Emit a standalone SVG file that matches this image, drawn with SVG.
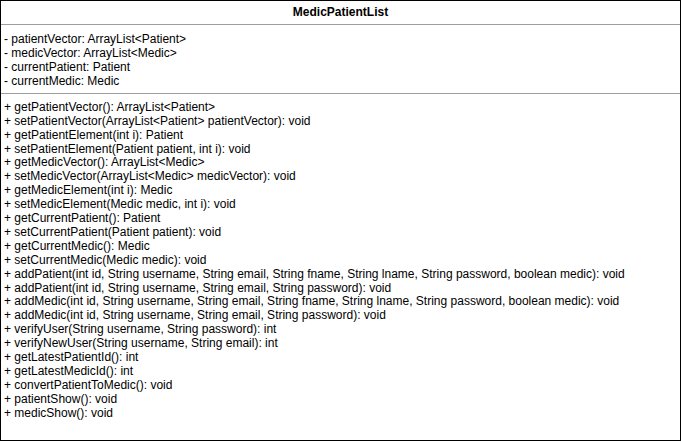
<svg xmlns="http://www.w3.org/2000/svg" width="682" height="442" viewBox="0 0 682 442">
<style>
.t{font-family:"Liberation Sans",Arial,sans-serif;font-size:12px;fill:#000}
.h{font-family:"Liberation Sans",Arial,sans-serif;font-size:12px;font-weight:bold;fill:#000}
.box{fill:#fff;stroke:#000;stroke-width:1}
.sep{stroke:#9e9e9e;stroke-width:1}
</style>
<rect width="682" height="442" fill="#fff"/>
<g id="MedicPatientList">
<rect class="box" x="0.5" y="0.5" width="680" height="440"/>
<line class="sep" x1="1" y1="24.5" x2="680" y2="24.5"/>
<line class="sep" x1="1" y1="93.5" x2="680" y2="93.5"/>
<text class="h" x="340.5" y="16" text-anchor="middle">MedicPatientList</text>
<text class="t" x="4" y="43.3">- patientVector: ArrayList&lt;Patient&gt;</text>
<text class="t" x="4" y="57.2">- medicVector: ArrayList&lt;Medic&gt;</text>
<text class="t" x="4" y="71.1">- currentPatient: Patient</text>
<text class="t" x="4" y="85">- currentMedic: Medic</text>
<text class="t" x="4" y="110.8">+ getPatientVector(): ArrayList&lt;Patient&gt;</text>
<text class="t" x="4" y="124.7">+ setPatientVector(ArrayList&lt;Patient&gt; patientVector): void</text>
<text class="t" x="4" y="138.6">+ getPatientElement(int i): Patient</text>
<text class="t" x="4" y="152.5">+ setPatientElement(Patient patient, int i): void</text>
<text class="t" x="4" y="166.4">+ getMedicVector(): ArrayList&lt;Medic&gt;</text>
<text class="t" x="4" y="180.3">+ setMedicVector(ArrayList&lt;Medic&gt; medicVector): void</text>
<text class="t" x="4" y="194.2">+ getMedicElement(int i): Medic</text>
<text class="t" x="4" y="208.1">+ setMedicElement(Medic medic, int i): void</text>
<text class="t" x="4" y="222">+ getCurrentPatient(): Patient</text>
<text class="t" x="4" y="235.9">+ setCurrentPatient(Patient patient): void</text>
<text class="t" x="4" y="249.8">+ getCurrentMedic(): Medic</text>
<text class="t" x="4" y="263.7">+ setCurrentMedic(Medic medic): void</text>
<text class="t" x="4" y="277.6">+ addPatient(int id, String username, String email, String fname, String lname, String password, boolean medic): void</text>
<text class="t" x="4" y="291.5">+ addPatient(int id, String username, String email, String password): void</text>
<text class="t" x="4" y="305.4">+ addMedic(int id, String username, String email, String fname, String lname, String password, boolean medic): void</text>
<text class="t" x="4" y="319.3">+ addMedic(int id, String username, String email, String password): void</text>
<text class="t" x="4" y="333.2">+ verifyUser(String username, String password): int</text>
<text class="t" x="4" y="347.1">+ verifyNewUser(String username, String email): int</text>
<text class="t" x="4" y="361">+ getLatestPatientId(): int</text>
<text class="t" x="4" y="374.9">+ getLatestMedicId(): int</text>
<text class="t" x="4" y="388.8">+ convertPatientToMedic(): void</text>
<text class="t" x="4" y="402.7">+ patientShow(): void</text>
<text class="t" x="4" y="416.6">+ medicShow(): void</text>
</g>
</svg>
